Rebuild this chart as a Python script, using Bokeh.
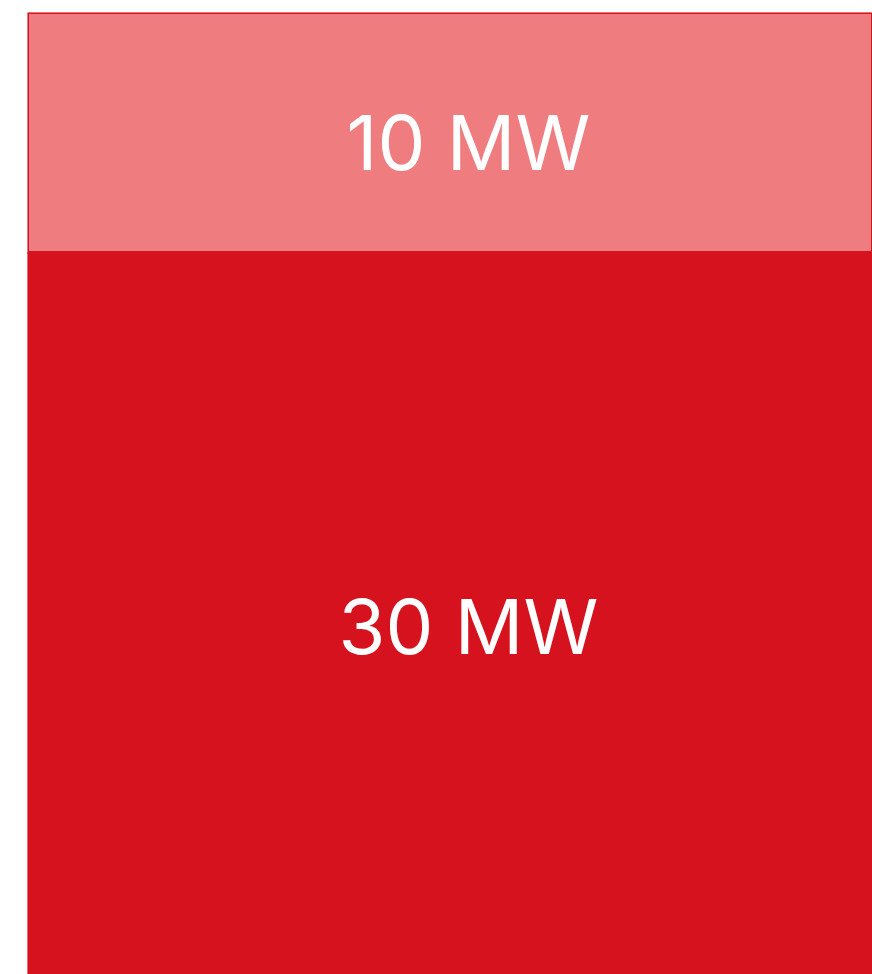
from bokeh.plotting import figure
from bokeh.models import ColumnDataSource, Range1d
from bokeh.core.properties import value
from bokeh.embed import file_html
from bokeh.resources import INLINE

# Data
categories = ["Capacity"]
base_mw = [30]
extra_mw = [10]
base_labels = ["30 MW"]
extra_labels = ["10 MW"]

x_pos = [0.5]
src = ColumnDataSource(dict(
    x=x_pos,
    base_bottom=[-1],
    base_top=base_mw,
    extra_bottom=base_mw,
    extra_top=[b + e for b, e in zip(base_mw, extra_mw)],
    base_mid=[b / 2 for b in base_mw],
    extra_mid=[b + e / 2 for b, e in zip(base_mw, extra_mw)],
    base_labels=base_labels,
    extra_labels=extra_labels,
))

total = base_mw[0] + extra_mw[0]
p = figure(width=872, height=974, output_backend="svg", toolbar_location=None,
           x_range=Range1d(0, 845 / 882), y_range=Range1d(-2 / 24, total),
           min_border_left=27, min_border_right=0, min_border_top=12, min_border_bottom=0)
p.axis.visible = False
p.grid.visible = False
p.outline_line_color = None
p.background_fill_color = "white"

p.vbar(x="x", width=1.0, bottom="base_bottom", top="base_top", source=src,
       fill_color="#D5121E", line_color="#D5121E", line_width=1)
p.vbar(x="x", width=1.0, bottom="extra_bottom", top="extra_top", source=src,
       fill_color="#EF7D80", line_color="#D5121E", line_width=3)

p.text(x="x", y="extra_mid", text="extra_labels", source=src,
       text_font=value("Inter"), text_font_size="76px", text_color="white",
       text_align="center", text_baseline="middle", y_offset=9)
p.text(x="x", y="base_mid", text="base_labels", source=src,
       text_font=value("Inter"), text_font_size="76px", text_color="white",
       text_align="center", text_baseline="middle", y_offset=13)

open("out.html", "w").write(file_html(p, INLINE))
